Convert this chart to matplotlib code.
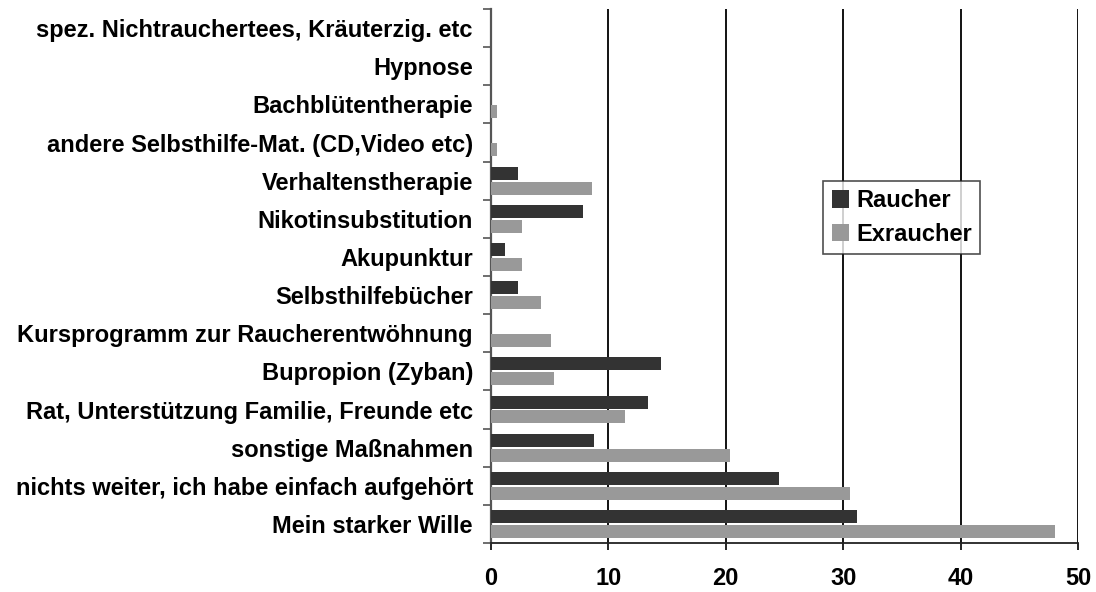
import matplotlib
matplotlib.use("Agg")
import matplotlib.pyplot as plt
import numpy as np

categories = [
    "spez. Nichtrauchertees, Kräuterzig. etc",
    "Hypnose",
    "Bachblütentherapie",
    "andere Selbsthilfe-Mat. (CD,Video etc)",
    "Verhaltenstherapie",
    "Nikotinsubstitution",
    "Akupunktur",
    "Selbsthilfebücher",
    "Kursprogramm zur Raucherentwöhnung",
    "Bupropion (Zyban)",
    "Rat, Unterstützung Familie, Freunde etc",
    "sonstige Maßnahmen",
    "nichts weiter, ich habe einfach aufgehört",
    "Mein starker Wille",
]
raucher = [0, 0, 0, 0, 2.3, 7.8, 1.2, 2.3, 0, 14.5, 13.4, 8.8, 24.5, 31.2]
exraucher = [0, 0, 0.5, 0.5, 8.6, 2.6, 2.6, 4.3, 5.1, 5.4, 11.4, 20.4, 30.6, 48.0]
xticks = [0, 10, 20, 30, 40, 50]

plt.rcParams['font.family'] = ['Liberation Sans', 'DejaVu Sans']
plt.rcParams['font.weight'] = 'bold'

fig = plt.figure(figsize=(10.96, 5.92), dpi=100)
ax = fig.add_axes([491/1096, 1 - 543/592, (1078-491)/1096, (543-9)/592])

n = len(categories)
pos = np.arange(n)  # top-to-bottom index
h = 0.34
off = 0.195
ax.barh(pos - off, raucher, height=h, color="#333333", label="Raucher", zorder=3)
ax.barh(pos + off, exraucher, height=h, color="#999999", label="Exraucher", zorder=3)

ax.set_ylim(n - 0.5, -0.5)
ax.set_xlim(0, 50)

# category boundary ticks
ax.set_yticks(np.arange(n + 1) - 0.5)
ax.set_yticklabels([])
ax.set_yticks(pos, minor=True)
ax.set_yticklabels(categories, minor=True, fontsize=17, fontweight='bold')
ax.tick_params(axis='y', which='minor', length=0, pad=13)
ax.tick_params(axis='y', which='major', length=6, width=1.2, color="#555555", direction='out')

ax.set_xticks(xticks)
ax.set_xticklabels([str(v) for v in xticks], fontsize=17, fontweight='bold')
ax.tick_params(axis='x', length=5, width=1.2, direction='out', pad=12)

for v in xticks[1:]:
    ax.axvline(v, color="black", lw=1.3, zorder=1)

for s in ['top', 'right']:
    ax.spines[s].set_visible(False)
ax.spines['left'].set_color("#555555")
ax.spines['left'].set_linewidth(1.6)
ax.spines['bottom'].set_color("#222222")
ax.spines['bottom'].set_linewidth(1.3)

leg = ax.legend(loc='upper left', bbox_to_anchor=(0.566, 0.678), prop={'size': 17, 'weight': 'bold'},
                frameon=True, fancybox=False, handlelength=0.75, handleheight=0.75,
                handletextpad=0.3, borderpad=0.35, labelspacing=0.45, borderaxespad=0)
leg.get_frame().set_edgecolor("#222222")
leg.get_frame().set_linewidth(1.2)
leg.set_zorder(5)

fig.savefig("out.png", dpi=100)
